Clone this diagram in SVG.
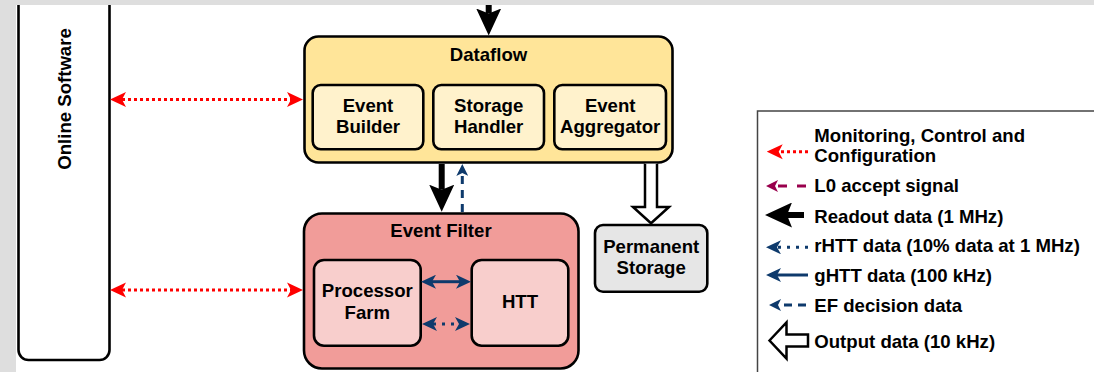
<svg xmlns="http://www.w3.org/2000/svg" width="1094" height="372" viewBox="0 0 1094 372">
<defs>
<style>
text{font-family:"Liberation Sans",Arial,Helvetica,sans-serif;font-weight:bold;font-size:18.6px;fill:#000}
.c{text-anchor:middle}
.box{stroke:#000;stroke-width:2.6}
.red{stroke:#FF0000;stroke-width:3;fill:none;stroke-dasharray:3 3}
.blue{stroke:#0E3A6C;stroke-width:3;fill:none}
.dot{stroke-dasharray:3 6}
.dash{stroke-dasharray:8 6}
.pur{stroke:#99004D;stroke-width:3;fill:none;stroke-dasharray:9 10}
.blk{stroke:#000;stroke-width:6;fill:none}
.hollow{stroke:#000;stroke-width:2.5;fill:#fff;stroke-linejoin:miter}
</style>
<marker id="mRed" markerUnits="userSpaceOnUse" viewBox="0 0 16 16" markerWidth="16" markerHeight="16" refX="4" refY="8" orient="auto-start-reverse"><path d="M0,0.5 L16,8 L0,15.5 L4,8 Z" fill="#FF0000"/></marker>
<marker id="mBlue" markerUnits="userSpaceOnUse" viewBox="0 0 15 14" markerWidth="15" markerHeight="14" refX="4" refY="7" orient="auto-start-reverse"><path d="M0,0 L15,7 L0,14 L4,7 Z" fill="#0E3A6C"/></marker>
<marker id="mBlueS" markerUnits="userSpaceOnUse" viewBox="0 0 12 12" markerWidth="12" markerHeight="12" refX="3" refY="6" orient="auto-start-reverse"><path d="M0,0 L12,6 L0,12 L3,6 Z" fill="#0E3A6C"/></marker>
<marker id="mPur" markerUnits="userSpaceOnUse" viewBox="0 0 12 12" markerWidth="12" markerHeight="12" refX="3" refY="6" orient="auto-start-reverse"><path d="M0,0 L12,6 L0,12 L3,6 Z" fill="#99004D"/></marker>
<marker id="mBlk" markerUnits="userSpaceOnUse" viewBox="0 0 27 25" markerWidth="27" markerHeight="25" refX="5" refY="12.5" orient="auto-start-reverse"><path d="M0,0 L27,12.5 L0,25 L5,12.5 Z" fill="#000"/></marker>
</defs>
<rect x="0" y="0" width="1094" height="372" fill="#fff"/>

<g id="online-software">
<rect class="box" x="18.5" y="-30" width="91" height="390" rx="10" fill="#fff"/>
<text class="c" transform="translate(70.5,99) rotate(-90)">Online Software</text>
</g>

<g id="dataflow">
<rect class="box" x="304.5" y="36.5" width="368" height="126" rx="14" fill="#FFE599"/>
<text class="c" x="488.5" y="61">Dataflow</text>
</g>
<g id="event-builder">
<rect class="box" x="312.7" y="85" width="110.6" height="64.3" rx="8" fill="#FFF2CC"/>
<text class="c" x="368" y="111.7">Event</text>
<text class="c" x="368" y="133.3">Builder</text>
</g>
<g id="storage-handler">
<rect class="box" x="433.3" y="85" width="110.7" height="64.3" rx="8" fill="#FFF2CC"/>
<text class="c" x="488.7" y="111.7">Storage</text>
<text class="c" x="488.7" y="133.3">Handler</text>
</g>
<g id="event-aggregator">
<rect class="box" x="554.3" y="85" width="111.7" height="64.3" rx="8" fill="#FFF2CC"/>
<text class="c" x="610.2" y="111.7">Event</text>
<text class="c" x="610.2" y="133.3">Aggregator</text>
</g>

<g id="event-filter">
<rect class="box" x="304" y="213.5" width="274.5" height="155" rx="18" fill="#F19C99"/>
<text class="c" x="441" y="237.3">Event Filter</text>
</g>
<g id="processor-farm">
<rect class="box" x="314" y="260" width="106.7" height="85.7" rx="10" fill="#F8CECC"/>
<text class="c" x="367.3" y="296.7">Processor</text>
<text class="c" x="367.3" y="319">Farm</text>
</g>
<g id="htt">
<rect class="box" x="471.7" y="260" width="96.6" height="85.7" rx="10" fill="#F8CECC"/>
<text class="c" x="520" y="308.3">HTT</text>
</g>

<g id="permanent-storage">
<rect class="box" x="595" y="225" width="112.3" height="66.7" rx="8" fill="#E6E6E6"/>
<text class="c" x="651.2" y="252.7">Permanent</text>
<text class="c" x="651.2" y="274">Storage</text>
</g>

<g id="connectors">
<path class="red" d="M122,99.5 H291" marker-start="url(#mRed)" marker-end="url(#mRed)"/>
<path class="red" d="M122,290 H291" marker-start="url(#mRed)" marker-end="url(#mRed)"/>
<path class="blk" d="M488.7,0 V13.5" marker-end="url(#mBlk)"/>
<path class="blk" d="M441.7,164 V189.7" marker-end="url(#mBlk)"/>
<path class="blue dash" d="M462.3,212 V173" marker-end="url(#mBlueS)"/>
<path class="blue" d="M432,281.7 H460" marker-start="url(#mBlue)" marker-end="url(#mBlue)"/>
<path class="blue dot" d="M433,324 H459" marker-start="url(#mBlue)" marker-end="url(#mBlue)"/>
<polyline class="hollow" points="645,163.8 645,207 633,207 651,223.3 669,207 657,207 657,163.8"/>
</g>

<g id="legend">
<rect x="757.5" y="111" width="400" height="300" fill="#fff" stroke="#444" stroke-width="1.5"/>
<path class="red" d="M808,151.7 H778.7" marker-end="url(#mRed)"/>
<text x="814.3" y="141.7">Monitoring, Control and</text>
<text x="814.3" y="162.3">Configuration</text>
<path class="pur" d="M806,186 H775" marker-end="url(#mPur)"/>
<text x="814.3" y="192.3">L0 accept signal</text>
<path class="blk" d="M804,215 H787" marker-end="url(#mBlk)"/>
<text x="814.3" y="223.3">Readout data (1 MHz)</text>
<path class="blue dot" d="M808,247.3 H777" marker-end="url(#mBlue)"/>
<text x="814.3" y="251.7">rHTT data (10% data at 1 MHz)</text>
<path class="blue" d="M808,275 H777" marker-end="url(#mBlue)"/>
<text x="814.3" y="281.7">gHTT data (100 kHz)</text>
<path class="blue dash" d="M806,305 H778" marker-end="url(#mBlueS)"/>
<text x="814.3" y="311.7">EF decision data</text>
<polygon class="hollow" points="769.5,340.5 786.5,322.5 786.5,334.5 808,334.5 808,346.5 786.5,346.5 786.5,358.5"/>
<text x="814.3" y="348.3">Output data (10 kHz)</text>
</g>

<rect x="0" y="0" width="1094" height="5" fill="#DEDEDE"/>
<rect x="0" y="0" width="16" height="372" fill="#DEDEDE"/>
</svg>
